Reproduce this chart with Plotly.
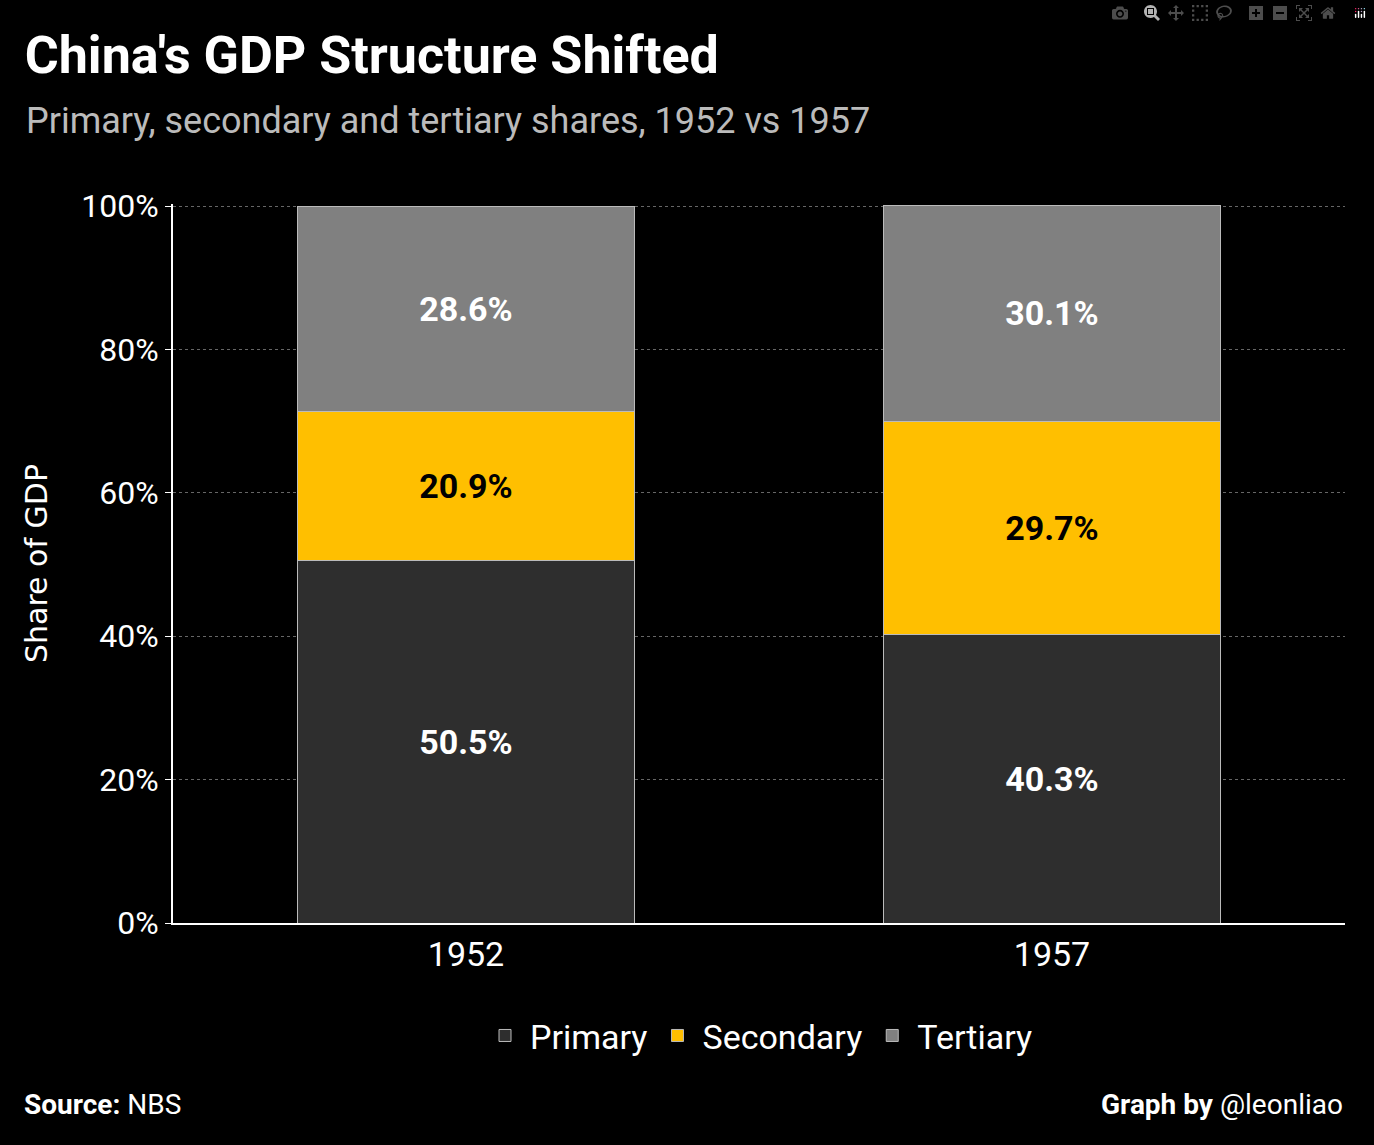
import plotly.graph_objects as go

years = ['1952', '1957']
primary = [50.5, 40.3]
secondary = [20.9, 29.7]
tertiary = [28.6, 30.1]

FONT = "Liberation Sans Narrow, Roboto, sans-serif"

fig = go.Figure()
series = [('Primary', primary, '#2e2e2e', 'white'),
          ('Secondary', secondary, '#ffbf00', 'black'),
          ('Tertiary', tertiary, '#808080', 'white')]
for name, vals, color, tcolor in series:
    fig.add_trace(go.Bar(
        x=years, y=vals, name=name, width=0.575,
        marker=dict(color=color, line=dict(color='#bbbbbb', width=1)),
        text=[f'{v:.1f}%' for v in vals], textposition='inside',
        insidetextanchor='middle',
        textfont=dict(color=tcolor, size=34, family=FONT, weight='bold'),
    ))

fig.update_layout(
    barmode='stack', width=1374, height=1145,
    paper_bgcolor='black', plot_bgcolor='black',
    margin=dict(l=173, r=29, t=204, b=222),
    font=dict(family=FONT, color='white'),
    title=dict(text="<b>China's GDP Structure Shifted</b>", x=0.018, xanchor='left',
               y=0.952, yanchor='middle', font=dict(size=52, color='white', family=FONT)),
    legend=dict(orientation='h', x=0.5, xanchor='center', y=-0.157, yanchor='middle',
                font=dict(size=34, color='white'), itemwidth=40, traceorder='normal'),
)
fig.update_yaxes(range=[0, 100.3], tickvals=[0, 20, 40, 60, 80, 100],
                 ticktext=['0%', '20%', '40%', '60%', '80%', '100%'],
                 tickfont=dict(size=32, color='white'),
                 showgrid=True, gridcolor='#666666', griddash='dot', gridwidth=1,
                 showline=True, linecolor='white', linewidth=2,
                 ticks='outside', ticklen=6, tickcolor='white', zeroline=False,
                 title=dict(text='Share of GDP', font=dict(size=30, color='white',
                            family='DejaVu Sans'), standoff=25))
fig.update_xaxes(tickfont=dict(size=34, color='white'), showline=True,
                 linecolor='white', linewidth=2, range=[-0.5, 1.5])

fig.add_annotation(text='Primary, secondary and tertiary shares, 1952 vs 1957',
                   xref='paper', yref='paper', x=-0.127, y=1.115, xanchor='left',
                   yanchor='middle', showarrow=False,
                   font=dict(size=36, color='#bbbbbb', family=FONT))
fig.add_annotation(text='<b>Source:</b> NBS', xref='paper', yref='paper',
                   x=-0.129, y=-0.252, xanchor='left', yanchor='middle',
                   showarrow=False, font=dict(size=28, color='white', family=FONT))
fig.add_annotation(text='<b>Graph by</b> @leonliao', xref='paper', yref='paper',
                   x=1.0, y=-0.252, xanchor='right', yanchor='middle',
                   showarrow=False, font=dict(size=28, color='white', family=FONT))

fig.write_html("out.html",
               post_script="document.body.style.margin='0';document.body.style.background='black';")
